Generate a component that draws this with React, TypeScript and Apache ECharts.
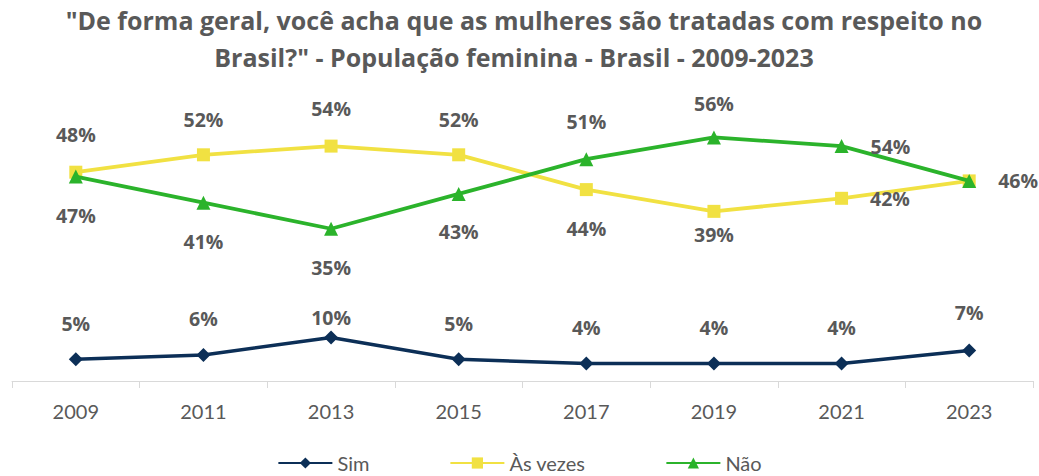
import React, { useEffect, useRef } from "react";
import * as echarts from "echarts";

const years = ["2009", "2011", "2013", "2015", "2017", "2019", "2021", "2023"];
const sim = [5, 6, 10, 5, 4, 4, 4, 7];
const asVezes = [48, 52, 54, 52, 44, 39, 42, 46];
const nao = [47, 41, 35, 43, 51, 56, 54, 46];

const titleLine1 = '"De forma geral, você acha que as mulheres são tratadas com respeito no';
const titleLine2 = 'Brasil?" - População feminina - Brasil - 2009-2023';

// label placement per point: [position, distance] or null to hide
const simLabelPos: any[] = [["top", 19], ["top", 19], ["top", 3], ["top", 19], ["top", 19], ["top", 19], ["top", 19], ["top", 21]];
const asVezesLabelPos: any[] = [["top", 21], ["top", 19], ["top", 21], ["top", 19], ["bottom", 22], ["bottom", 7], ["right", 22], null];
const naoLabelPos: any[] = [["bottom", 22], ["bottom", 22], ["bottom", 22], ["bottom", 21], ["top", 21], ["top", 17], ["right", 22], ["right", 22]];

const FONT = "'Open Sans', Lato, sans-serif";
const GRAY = "#595959";

function buildData(values: number[], pos: any[]) {
  return values.map((v, i) => {
    const p = pos[i];
    if (!p) return { value: v, label: { show: false } };
    return { value: v, label: { show: true, position: p[0], distance: p[1] } };
  });
}

export default function App() {
  const ref = useRef<HTMLDivElement>(null);
  useEffect(() => {
    if (!ref.current) return;
    const chart = echarts.init(ref.current, null, { renderer: "svg" });
    const labelStyle = {
      show: true,
      formatter: (p: any) => p.value + "%",
      color: GRAY,
      fontFamily: FONT,
      fontWeight: "bold",
      fontSize: 19.5,
    };
    chart.setOption({
      animation: false,
      backgroundColor: "#ffffff",
      title: [
        {
          text: titleLine1,
          left: 519,
          top: 2,
          textAlign: "center",
          textStyle: { color: GRAY, fontFamily: FONT, fontWeight: "bold", fontSize: 25 },
        },
        {
          text: titleLine2,
          left: 509,
          top: 39,
          textAlign: "center",
          textStyle: { color: GRAY, fontFamily: FONT, fontWeight: "bold", fontSize: 25 },
        },
      ],
      legend: {
        top: 448,
        left: "center",
        itemWidth: 54,
        itemHeight: 14,
        itemGap: 80,
        textStyle: { color: GRAY, fontFamily: "Lato, sans-serif", fontSize: 20 },
        data: ["Sim", "Às vezes", "Não"],
      },
      grid: { left: 12, right: 6, top: 120, bottom: 95, containLabel: false },
      xAxis: {
        type: "category",
        data: years,
        boundaryGap: true,
        axisLine: { show: true, lineStyle: { color: "#D9D9D9", width: 1 } },
        axisTick: { show: true, length: 7, lineStyle: { color: "#D9D9D9" } },
        axisLabel: { color: GRAY, fontFamily: "Lato, sans-serif", fontSize: 20, margin: 20 },
      },
      yAxis: {
        type: "value",
        min: 0,
        max: 60,
        show: false,
        splitLine: { show: false },
      },
      series: [
        {
          name: "Sim",
          type: "line",
          data: buildData(sim, simLabelPos),
          color: "#0C2F57",
          lineStyle: { width: 3.5, color: "#0C2F57" },
          symbol: "diamond",
          symbolSize: 14,
          itemStyle: { color: "#0C2F57" },
          label: labelStyle,
          z: 3,
        },
        {
          name: "Às vezes",
          type: "line",
          data: buildData(asVezes, asVezesLabelPos),
          color: "#F1E142",
          lineStyle: { width: 3.8, color: "#F1E142" },
          symbol: "rect",
          symbolSize: 13,
          itemStyle: { color: "#F1E142" },
          label: labelStyle,
          z: 2,
        },
        {
          name: "Não",
          type: "line",
          data: buildData(nao, naoLabelPos),
          color: "#2BB32B",
          lineStyle: { width: 3.8, color: "#2BB32B" },
          symbol: "triangle",
          symbolSize: 14,
          itemStyle: { color: "#2BB32B" },
          label: labelStyle,
          z: 4,
        },
      ],
    });
    return () => chart.dispose();
  }, []);
  return <div ref={ref} style={{ width: 1039, height: 476, position: "absolute", left: 0, top: 0 }} />;
}
